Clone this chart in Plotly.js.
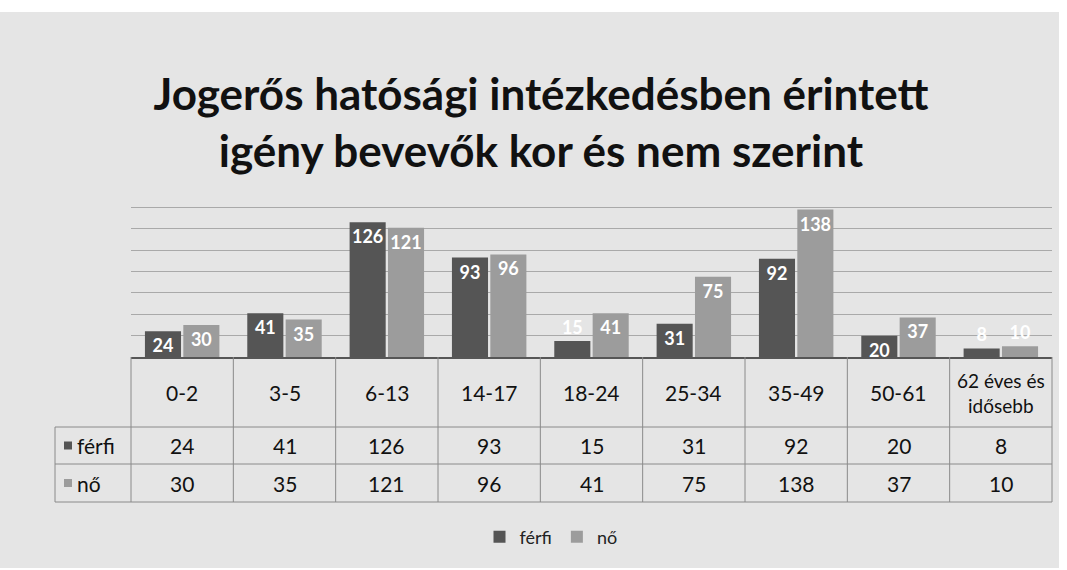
<!DOCTYPE html>
<html>
<head>
<meta charset="utf-8">
<script src="https://cdn.plot.ly/plotly-3.0.1.min.js"></script>
<style>html,body{margin:0;padding:0;background:#fff;}#chart{width:1067px;height:570px;}</style>
</head>
<body>
<div id="chart"></div>
<script>
const categories = ['0-2','3-5','6-13','14-17','18-24','25-34','35-49','50-61','62 éves és<br>idősebb'];
const seriesNames = ['férfi','nő'];
const ferfi = [24, 41, 126, 93, 15, 31, 92, 20, 8];
const no = [30, 35, 121, 96, 41, 75, 138, 37, 10];
const titleText = 'Jogerős hatósági intézkedésben érintett<br>igény bevevők kor és nem szerint';

const colors = ['#555555', '#9c9c9c'];
const FONT = 'Lato, "Open Sans", sans-serif';

// pixel -> paper helpers (plot area 131..1052 x, 186..357 y)
const L = 131, R = 1052, T = 186, B = 357;
const px = v => (v - L) / (R - L);
const py = v => (B - v) / (B - T);
const YMAX = 160;
const pxPerUnit = (B - T) / YMAX;

const n = categories.length;
const colW = (R - L) / n;
const xs = categories.map((c, i) => i);

const traces = [ferfi, no].map((vals, k) => ({
  type: 'bar',
  name: seriesNames[k],
  x: xs,
  y: vals,
  marker: {color: colors[k], line: {width: 0}},
  text: vals.map(String),
  textposition: vals.map(v => v * pxPerUnit < 20 ? 'outside' : 'inside'),
  insidetextanchor: 'end',
  constraintext: 'none',
  cliponaxis: false,
  textangle: 0,
  textfont: {family: FONT, size: 18, color: '#ffffff', weight: 'bold'},
  outsidetextfont: {family: FONT, size: 18, color: '#ffffff', weight: 'bold'},
  hoverinfo: 'skip'
}));

const shapes = [];
// background panel
shapes.push({type: 'rect', xref: 'paper', yref: 'paper', layer: 'below',
  x0: px(0), x1: px(1059), y0: py(12), y1: py(568),
  fillcolor: '#e5e5e5', line: {width: 0}});

const tableColor = '#8a8a8a';
const rowY = [358, 427, 464, 502];
// horizontal lines
shapes.push({type: 'line', xref: 'paper', yref: 'paper', x0: px(L), x1: px(R), y0: py(rowY[0]), y1: py(rowY[0]), line: {color: tableColor, width: 1}});
[rowY[1], rowY[2], rowY[3]].forEach(y => shapes.push({type: 'line', xref: 'paper', yref: 'paper',
  x0: px(55), x1: px(R), y0: py(y), y1: py(y), line: {color: tableColor, width: 1}}));
// vertical lines
shapes.push({type: 'line', xref: 'paper', yref: 'paper', x0: px(55), x1: px(55), y0: py(rowY[1]), y1: py(rowY[3]), line: {color: tableColor, width: 1}});
for (let k = 0; k <= n; k++) {
  const x = L + k * colW;
  shapes.push({type: 'line', xref: 'paper', yref: 'paper', x0: px(x), x1: px(x), y0: py(B), y1: py(rowY[3]), line: {color: tableColor, width: 1}});
}
// legend keys in table row headers
[0, 1].forEach(k => {
  const cy = (rowY[k + 1] + rowY[k + 2]) / 2;
  shapes.push({type: 'rect', xref: 'paper', yref: 'paper', x0: px(64), x1: px(72), y0: py(cy - 4), y1: py(cy + 4),
    fillcolor: colors[k], line: {width: 0}});
});

const annotations = [];
const cellFont = {family: FONT, size: 21, color: '#111111'};
categories.forEach((c, i) => {
  const cx = px(L + (i + 0.5) * colW);
  const isTwoLine = c.indexOf('<br>') >= 0;
  annotations.push({xref: 'paper', yref: 'paper', x: cx, y: py((rowY[0] + rowY[1]) / 2), text: c,
    showarrow: false, xanchor: 'center', yanchor: 'middle',
    font: isTwoLine ? {family: FONT, size: 19, color: '#111111'} : cellFont});
  annotations.push({xref: 'paper', yref: 'paper', x: cx, y: py((rowY[1] + rowY[2]) / 2), text: String(ferfi[i]),
    showarrow: false, xanchor: 'center', yanchor: 'middle', font: cellFont});
  annotations.push({xref: 'paper', yref: 'paper', x: cx, y: py((rowY[2] + rowY[3]) / 2), text: String(no[i]),
    showarrow: false, xanchor: 'center', yanchor: 'middle', font: cellFont});
});
seriesNames.forEach((s, k) => {
  annotations.push({xref: 'paper', yref: 'paper', x: px(75), y: py((rowY[k + 1] + rowY[k + 2]) / 2), text: s,
    showarrow: false, xanchor: 'left', yanchor: 'middle', font: cellFont});
});

const layout = {
  width: 1067, height: 570,
  margin: {l: L, r: 1067 - R, t: T, b: 570 - B},
  paper_bgcolor: '#ffffff',
  plot_bgcolor: 'rgba(0,0,0,0)',
  title: {text: titleText, x: 0.507, xanchor: 'center', y: 0.807, yanchor: 'middle',
    font: {family: FONT, size: 44, color: '#111111', weight: 'bold'}},
  barmode: 'group',
  bargap: 0.25,
  bargroupgap: 0.06,
  xaxis: {range: [-0.5, n - 0.5], showticklabels: false, ticks: '', showgrid: false, zeroline: false,
    showline: true, linecolor: '#222222', linewidth: 2, fixedrange: true},
  yaxis: {range: [0, YMAX], dtick: 20, showticklabels: false, ticks: '', showgrid: true,
    gridcolor: '#a9a9a9', gridwidth: 1, zeroline: false, showline: false, fixedrange: true},
  showlegend: true,
  legend: {orientation: 'h', x: px(551), xanchor: 'center', y: py(537), yanchor: 'middle',
    font: {family: FONT, size: 18, color: '#222222'}, bgcolor: 'rgba(0,0,0,0)', itemwidth: 30,
    traceorder: 'normal'},
  shapes: shapes,
  annotations: annotations
};

Plotly.newPlot('chart', traces, layout, {displayModeBar: false, staticPlot: true});
</script>
</body>
</html>
